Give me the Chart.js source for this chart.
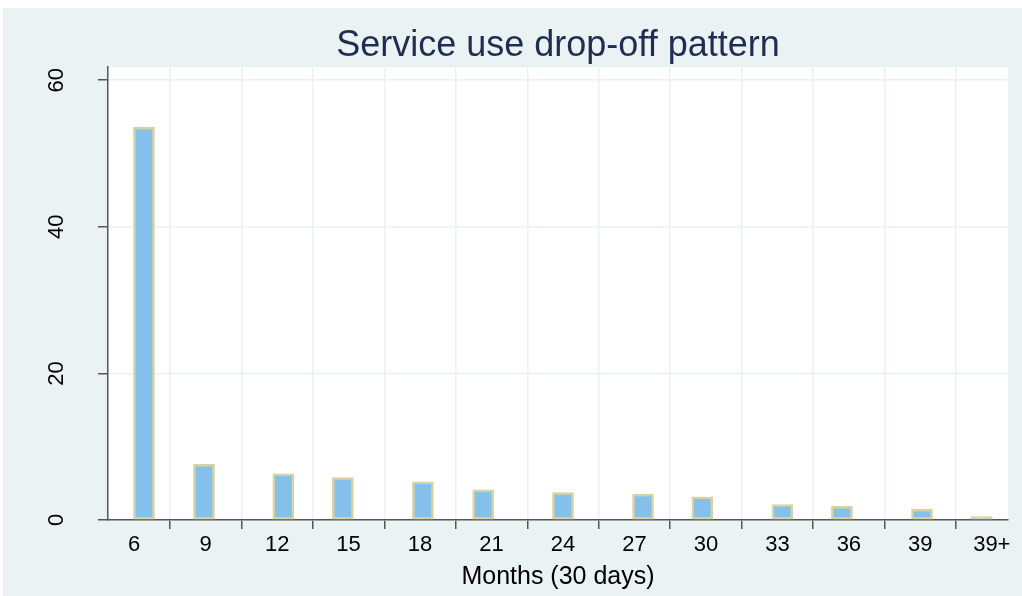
<!DOCTYPE html>
<html>
<head>
<meta charset="utf-8">
<script src="https://cdn.jsdelivr.net/npm/chart.js@4.4.1/dist/chart.umd.min.js"></script>
<style>
  html, body { margin: 0; padding: 0; background: #ffffff; }
  #wrap { width: 1022px; height: 596px; }
</style>
</head>
<body>
<div id="wrap"><canvas id="c" width="1022" height="596"></canvas></div>
<script>
// ---- data ----
const titleText = 'Service use drop-off pattern';
const xAxisTitle = 'Months (30 days)';
// x position of each bar (in months along the axis)
const barMonths = [6.41, 8.93, 12.26, 14.76, 18.12, 20.65, 24.0, 27.36, 29.85, 33.21, 35.71, 39.07, 41.58];
// bar heights (percent)
const barValues = [53.6, 7.6, 6.3, 5.8, 5.2, 4.1, 3.75, 3.55, 3.15, 2.1, 1.85, 1.45, 0.45];
// x tick positions and labels
const xTickValues = [6, 9, 12, 15, 18, 21, 24, 27, 30, 33, 36, 39, 42];
const xTickLabels = ['6', '9', '12', '15', '18', '21', '24', '27', '30', '33', '36', '39', '39+'];
// y ticks
const yTickValues = [0, 20, 40, 60];

const FONT = "'Liberation Sans', Arial, sans-serif";
const BG = '#EAF2F3';

const bgPlugin = {
  id: 'bgPlugin',
  beforeDraw(chart) {
    const ctx = chart.ctx;
    const { chartArea } = chart;
    ctx.save();
    ctx.fillStyle = '#ffffff';
    ctx.fillRect(0, 0, chart.width, chart.height);
    ctx.fillStyle = BG;
    ctx.fillRect(3, 8, chart.width - 3, chart.height - 8);
    ctx.fillStyle = '#ffffff';
    ctx.fillRect(chartArea.left, chartArea.top, chartArea.right - chartArea.left, chartArea.bottom - chartArea.top);
    ctx.restore();
  }
};

const titleCenterPlugin = {
  id: 'titleCenter',
  afterLayout(chart) {
    const tb = chart.titleBlock;
    if (!tb) return;
    const cx = (chart.chartArea.left + chart.chartArea.right) / 2;
    const cur = (tb.left + tb.right) / 2;
    tb.left += cx - cur;
    tb.right += cx - cur;
  }
};

new Chart(document.getElementById('c'), {
  type: 'bar',
  data: {
    datasets: [{
      data: barMonths.map((m, i) => ({ x: m, y: barValues[i] })),
      backgroundColor: '#84C0E9',
      borderColor: '#D8D1A2',
      borderWidth: 2.5,
      borderSkipped: false,
      barThickness: 21
    }]
  },
  options: {
    responsive: false,
    animation: false,
    layout: { padding: { left: 0, right: 14, top: 0, bottom: 0 } },
    plugins: {
      legend: { display: false },
      tooltip: { enabled: false },
      title: {
        display: true,
        text: titleText,
        color: '#1F2D50',
        font: { family: FONT, size: 36, weight: 'normal', lineHeight: 1.2 },
        padding: { top: 24, bottom: 0 }
      }
    },
    scales: {
      x: {
        type: 'linear',
        min: 4.9,
        max: 42.68,
        offset: false,
        afterBuildTicks(scale) { scale.ticks = xTickValues.map(v => ({ value: v })); },
        afterFit(scale) { scale.height = 76; },
        ticks: {
          autoSkip: false,
          maxRotation: 0,
          minRotation: 0,
          padding: 3,
          color: '#000',
          font: { family: FONT, size: 22 },
          callback(value) {
            const i = xTickValues.indexOf(value);
            return i >= 0 ? xTickLabels[i] : '';
          }
        },
        grid: {
          color: BG,
          lineWidth: 1.5,
          drawTicks: true,
          tickLength: 9,
          tickColor: '#555',
          tickWidth: 1.5
        },
        border: { display: true, color: '#555', width: 1.5 },
        title: {
          display: true,
          text: xAxisTitle,
          color: '#000',
          font: { family: FONT, size: 25 },
          padding: { top: 2, bottom: 4 }
        }
      },
      y: {
        type: 'linear',
        min: 0,
        max: 61.77,
        afterBuildTicks(scale) { scale.ticks = yTickValues.map(v => ({ value: v })); },
        afterFit(scale) { scale.width = 108; },
        ticks: {
          minRotation: 90,
          maxRotation: 90,
          crossAlign: 'center',
          padding: 29,
          color: '#000',
          font: { family: FONT, size: 22 }
        },
        grid: {
          color: BG,
          lineWidth: 1.5,
          drawTicks: true,
          tickLength: 10,
          tickColor: '#555',
          tickWidth: 1.5
        },
        border: { display: true, color: '#555', width: 1.5 }
      }
    }
  },
  plugins: [bgPlugin, titleCenterPlugin]
});
</script>
</body>
</html>
